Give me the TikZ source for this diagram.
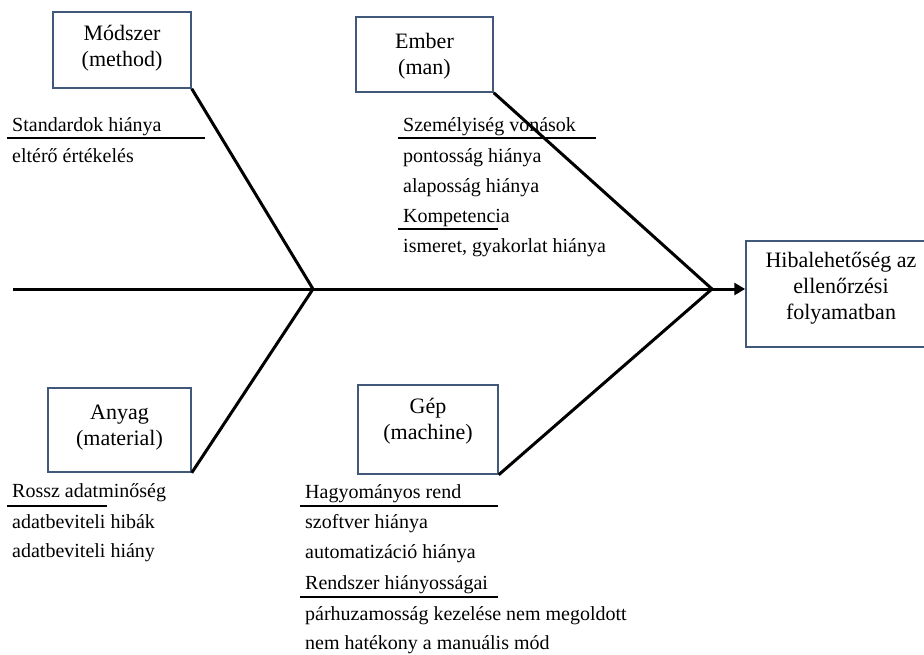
\documentclass[tikz,border=0pt]{standalone}
\usepackage{fontspec}
\setmainfont{Liberation Serif}
\usetikzlibrary{arrows.meta}
\definecolor{boxc}{RGB}{65,88,122}
\begin{document}
\begin{tikzpicture}[x=1pt,y=-1pt,
  box/.style={draw=boxc, line width=1.5pt, inner sep=0pt, fill=white},
  btext/.style={align=center, font=\fontsize{22}{26}\selectfont, inner sep=0pt},
  lbl/.style={anchor=base west, inner sep=0pt, font=\fontsize{20}{24}\selectfont},
  bone/.style={line width=3pt},
  uline/.style={line width=2.2pt}]
\useasboundingbox (0,0) rectangle (924,654);

% boxes
\node[box, minimum width=138pt, minimum height=76pt] (m) at (122,50) {};
\node[box, minimum width=137pt, minimum height=75pt] (e) at (424.5,54.5) {};
\node[box, minimum width=143pt, minimum height=84pt] (a) at (119.5,430) {};
\node[box, minimum width=140pt, minimum height=89pt] (g) at (428,429.5) {};
\node[box, minimum width=190pt, minimum height=106pt] (h) at (841,294) {};

\node[btext] (mt) at (122,48) {Módszer\\(method)};
\node[btext] (et) at (424.5,56) {Ember\\(man)};
\node[btext] (at) at (119.5,428) {Anyag\\(material)};
\node[btext] (gt) at (428,421) {Gép\\(machine)};
\node[btext] (ht) at (841,288) {Hibalehetőség az\\ellenőrzési\\folyamatban};

% spine and bones
\coordinate (s0) at (13,289);
\coordinate (j1) at (313,289);
\coordinate (j2) at (712,289);
\draw[bone, -{Triangle[length=11pt,width=12pt]}] (s0) -- (s0 -| h.west);
\draw[bone] (m.south east) -- (j1) -- (a.south east);
\draw[bone] (e.south east) -- (j2) -- (g.south east);

% labels: Módszer
\node[lbl] (l1) at (12,131) {Standardok hiánya};
\node[lbl] (l2) at (12,162) {eltérő értékelés};
\draw[uline] (7,138) -- (205,138);

% labels: Ember
\node[lbl] (l3) at (403,131) {Személyiség vonások};
\node[lbl] (l4) at (403,162) {pontosság hiánya};
\node[lbl] (l5) at (403,192) {alaposság hiánya};
\node[lbl] (l6) at (403,222) {Kompetencia};
\node[lbl] (l7) at (403,252) {ismeret, gyakorlat hiánya};
\draw[uline] (398,138) -- (596,138);
\draw[uline] (398,229) -- (498,229);

% labels: Anyag
\node[lbl] (l8) at (12,497) {Rossz adatminőség};
\node[lbl] (l9) at (12,528) {adatbeviteli hibák};
\node[lbl] (l10) at (12,557) {adatbeviteli hiány};
\draw[uline] (7,506) -- (107,506);

% labels: Gép
\node[lbl] (l11) at (305,498) {Hagyományos rend};
\node[lbl] (l12) at (305,528) {szoftver hiánya};
\node[lbl] (l13) at (305,558) {automatizáció hiánya};
\node[lbl] (l14) at (305,589) {Rendszer hiányosságai};
\node[lbl] (l15) at (305,620) {párhuzamosság kezelése nem megoldott};
\node[lbl] (l16) at (305,649) {nem hatékony a manuális mód};
\draw[uline] (300,506) -- (498,506);
\draw[uline] (300,597) -- (498,597);
\end{tikzpicture}
\end{document}
